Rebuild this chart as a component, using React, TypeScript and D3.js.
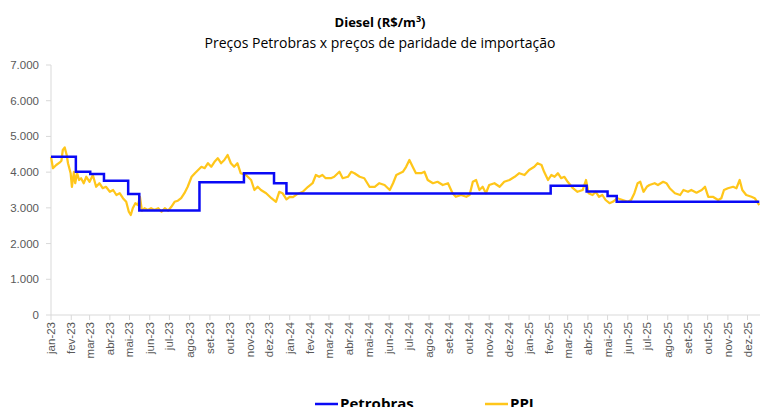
import React from "react";
import * as d3 from "d3";

const monthAbbr = ["jan", "fev", "mar", "abr", "mai", "jun", "jul", "ago", "set", "out", "nov", "dez"];
const yTicks = [0, 1000, 2000, 3000, 4000, 5000, 6000, 7000];

const petroDates = [
  "2023-01-01", "2023-02-08", "2023-03-02", "2023-03-23", "2023-04-29", "2023-05-16",
  "2023-08-16", "2023-10-23", "2023-12-08", "2023-12-27", "2025-02-03", "2025-03-30",
  "2025-05-01", "2025-05-15", "2025-12-19",
];
const petroValues = [
  4430, 4010, 3950, 3760, 3390, 2925,
  3715, 3970, 3690, 3405, 3620, 3460,
  3330, 3170, 3170,
];

const ppiDates = [
  "2023-01-01", "2023-01-04", "2023-01-09", "2023-01-14", "2023-01-17", "2023-01-19", "2023-01-22", "2023-01-25", "2023-01-27", "2023-01-31",
  "2023-02-02", "2023-02-05", "2023-02-07", "2023-02-10", "2023-02-13", "2023-02-16", "2023-02-20", "2023-02-24", "2023-03-01", "2023-03-06",
  "2023-03-11", "2023-03-16", "2023-03-21", "2023-03-26", "2023-04-01", "2023-04-06", "2023-04-11", "2023-04-16", "2023-04-21", "2023-04-26",
  "2023-04-30", "2023-05-03", "2023-05-06", "2023-05-10", "2023-05-14", "2023-05-17", "2023-05-20", "2023-05-24", "2023-05-29", "2023-06-03",
  "2023-06-08", "2023-06-14", "2023-06-19", "2023-06-24", "2023-06-29", "2023-07-04", "2023-07-09", "2023-07-14", "2023-07-19", "2023-07-24",
  "2023-07-29", "2023-08-04", "2023-08-09", "2023-08-14", "2023-08-19", "2023-08-24", "2023-08-29", "2023-09-03", "2023-09-08", "2023-09-13",
  "2023-09-18", "2023-09-23", "2023-09-28", "2023-10-03", "2023-10-08", "2023-10-13", "2023-10-18", "2023-10-26", "2023-11-03", "2023-11-08",
  "2023-11-13", "2023-11-18", "2023-11-26", "2023-12-04", "2023-12-11", "2023-12-16", "2023-12-21", "2023-12-27", "2024-01-01", "2024-01-06",
  "2024-01-13", "2024-01-21", "2024-01-29", "2024-02-05", "2024-02-10", "2024-02-15", "2024-02-20", "2024-02-25", "2024-03-04", "2024-03-09",
  "2024-03-17", "2024-03-22", "2024-03-30", "2024-04-04", "2024-04-09", "2024-04-17", "2024-04-24", "2024-05-02", "2024-05-10", "2024-05-17",
  "2024-05-25", "2024-06-02", "2024-06-07", "2024-06-12", "2024-06-22", "2024-06-27", "2024-07-02", "2024-07-07", "2024-07-12", "2024-07-20",
  "2024-07-25", "2024-07-30", "2024-08-07", "2024-08-14", "2024-08-22", "2024-08-30", "2024-09-06", "2024-09-11", "2024-09-19", "2024-09-27",
  "2024-10-02", "2024-10-07", "2024-10-12", "2024-10-17", "2024-10-22", "2024-10-27", "2024-11-01", "2024-11-09", "2024-11-17", "2024-11-24",
  "2024-12-02", "2024-12-10", "2024-12-17", "2024-12-25", "2025-01-01", "2025-01-09", "2025-01-14", "2025-01-20", "2025-01-24", "2025-01-30",
  "2025-02-04", "2025-02-09", "2025-02-14", "2025-02-19", "2025-02-24", "2025-03-01", "2025-03-09", "2025-03-16", "2025-03-24", "2025-03-29",
  "2025-04-02", "2025-04-08", "2025-04-13", "2025-04-18", "2025-04-23", "2025-04-28", "2025-05-04", "2025-05-09", "2025-05-16", "2025-05-24",
  "2025-06-01", "2025-06-06", "2025-06-11", "2025-06-16", "2025-06-20", "2025-06-25", "2025-06-30", "2025-07-04", "2025-07-12", "2025-07-17",
  "2025-07-25", "2025-07-30", "2025-08-04", "2025-08-12", "2025-08-20", "2025-08-25", "2025-09-01", "2025-09-06", "2025-09-14", "2025-09-22",
  "2025-09-27", "2025-10-02", "2025-10-09", "2025-10-17", "2025-10-22", "2025-10-26", "2025-11-01", "2025-11-09", "2025-11-14", "2025-11-19",
  "2025-11-23", "2025-11-29", "2025-12-07", "2025-12-12", "2025-12-19",
];
const ppiValues = [
  4430, 4110, 4200, 4265, 4320, 4620, 4690, 4480, 4250, 3970,
  3590, 4010, 3690, 3970, 3780, 3830, 3690, 3870, 3730, 3920,
  3590, 3690, 3550, 3590, 3450, 3500, 3360, 3410, 3270, 3170,
  2890, 2800, 2990, 3130, 3080, 3310, 2920, 2990, 2940, 2990,
  2940, 2990, 2890, 2990, 2920, 3030, 3170, 3200, 3270, 3410,
  3590, 3870, 3970, 4060, 4150, 4110, 4250, 4150, 4290, 4390,
  4250, 4340, 4480, 4250, 4150, 4250, 3970, 3920, 3780, 3500,
  3590, 3500, 3410, 3270, 3170, 3450, 3410, 3240, 3310, 3300,
  3390, 3450, 3590, 3690, 3920, 3870, 3920, 3830, 3830, 3870,
  4010, 3830, 3870, 4010, 3970, 3870, 3830, 3590, 3590, 3690,
  3640, 3500, 3690, 3920, 4010, 4150, 4340, 4150, 3970, 3970,
  4010, 3780, 3690, 3730, 3640, 3690, 3410, 3310, 3360, 3310,
  3360, 3730, 3780, 3500, 3590, 3410, 3640, 3690, 3590, 3730,
  3780, 3870, 3970, 3920, 4060, 4150, 4250, 4200, 4010, 3780,
  3920, 3870, 3970, 3830, 3870, 3730, 3550, 3450, 3500, 3780,
  3410, 3360, 3450, 3310, 3360, 3220, 3130, 3170, 3270, 3220,
  3170, 3220, 3410, 3690, 3730, 3450, 3590, 3640, 3690, 3640,
  3730, 3690, 3550, 3410, 3360, 3500, 3450, 3500, 3425, 3500,
  3590, 3310, 3310, 3220, 3270, 3500, 3550, 3590, 3550, 3780,
  3500, 3360, 3310, 3270, 3080,
];

const W = 760;
const H = 407;
const AXIS_FONT = "'Liberation Sans', Arial, sans-serif";
const TITLE_FONT = "'Open Sans', 'Noto Sans', sans-serif";
const BLUE = "#0A0AF5";
const GOLD = "#FFC61A";

export default function App() {
  const parse = d3.timeParse("%Y-%m-%d");
  const petro = petroDates.map((d, i) => ({ date: parse(d) as Date, value: petroValues[i] }));
  const ppi = ppiDates.map((d, i) => ({ date: parse(d) as Date, value: ppiValues[i] }));

  const x = d3
    .scaleTime()
    .domain([new Date(2023, 0, 1), new Date(2025, 11, 19)])
    .range([51, 759.3]);
  const y = d3.scaleLinear().domain([0, 7000]).range([315, 65]);

  const months = d3.timeMonth.range(new Date(2023, 0, 1), new Date(2026, 0, 1));
  const fmt = (v: number) => d3.format(",")(v).replace(/,/g, ".");

  const petroLine = d3
    .line<{ date: Date; value: number }>()
    .x((d) => x(d.date))
    .y((d) => y(d.value))
    .curve(d3.curveStepAfter);
  const ppiLine = d3
    .line<{ date: Date; value: number }>()
    .x((d) => x(d.date))
    .y((d) => y(d.value));

  return (
    <svg
      width={W}
      height={H}
      style={{ position: "absolute", left: 0, top: 0, background: "#fff" }}
    >
      <rect width={W} height={H} fill="#fff" />
      <text x={380} y={27} textAnchor="middle" fontFamily={TITLE_FONT} fontSize={13} fontWeight="bold" fill="#000">
        Diesel (R$/m<tspan dy={-5} fontSize={9}>3</tspan><tspan dy={5}>)</tspan>
      </text>
      <text x={380} y={48} textAnchor="middle" fontFamily={TITLE_FONT} fontSize={14} fill="#000">
        Preços Petrobras x preços de paridade de importação
      </text>

      {/* y axis */}
      <line x1={51} x2={51} y1={y(7000)} y2={315} stroke="#D9D9D9" strokeWidth={1} />
      {yTicks.map((t) => (
        <g key={t}>
          <line x1={46} x2={51} y1={y(t)} y2={y(t)} stroke="#D9D9D9" />
          <text x={39} y={y(t) + 4} textAnchor="end" fontFamily={AXIS_FONT} fontSize={11.5} fill="#595959">
            {fmt(t)}
          </text>
        </g>
      ))}

      {/* x axis */}
      <line x1={51} x2={760} y1={315} y2={315} stroke="#D9D9D9" strokeWidth={1} />
      {months.map((m) => {
        const px = x(m);
        const label = `${monthAbbr[m.getMonth()]}-${String(m.getFullYear()).slice(2)}`;
        return (
          <g key={label}>
            <line x1={px} x2={px} y1={315} y2={320} stroke="#D9D9D9" />
            <text
              transform={`translate(${px + 4},${322}) rotate(-90)`}
              textAnchor="end"
              fontFamily={AXIS_FONT}
              fontSize={11.5}
              fill="#595959"
            >
              {label}
            </text>
          </g>
        );
      })}

      <path d={ppiLine(ppi) || ""} fill="none" stroke={GOLD} strokeWidth={2.25} strokeLinejoin="round" />
      <path d={petroLine(petro) || ""} fill="none" stroke={BLUE} strokeWidth={2.5} />

      {/* legend */}
      <line x1={315} x2={338} y1={404} y2={404} stroke={BLUE} strokeWidth={2.5} />
      <text x={340} y={409} fontFamily={TITLE_FONT} fontSize={15} fontWeight="bold" fill="#000">
        Petrobras
      </text>
      <line x1={485} x2={508} y1={404} y2={404} stroke={GOLD} strokeWidth={2.5} />
      <text x={510} y={409} fontFamily={TITLE_FONT} fontSize={15} fontWeight="bold" fill="#000">
        PPI
      </text>
    </svg>
  );
}
